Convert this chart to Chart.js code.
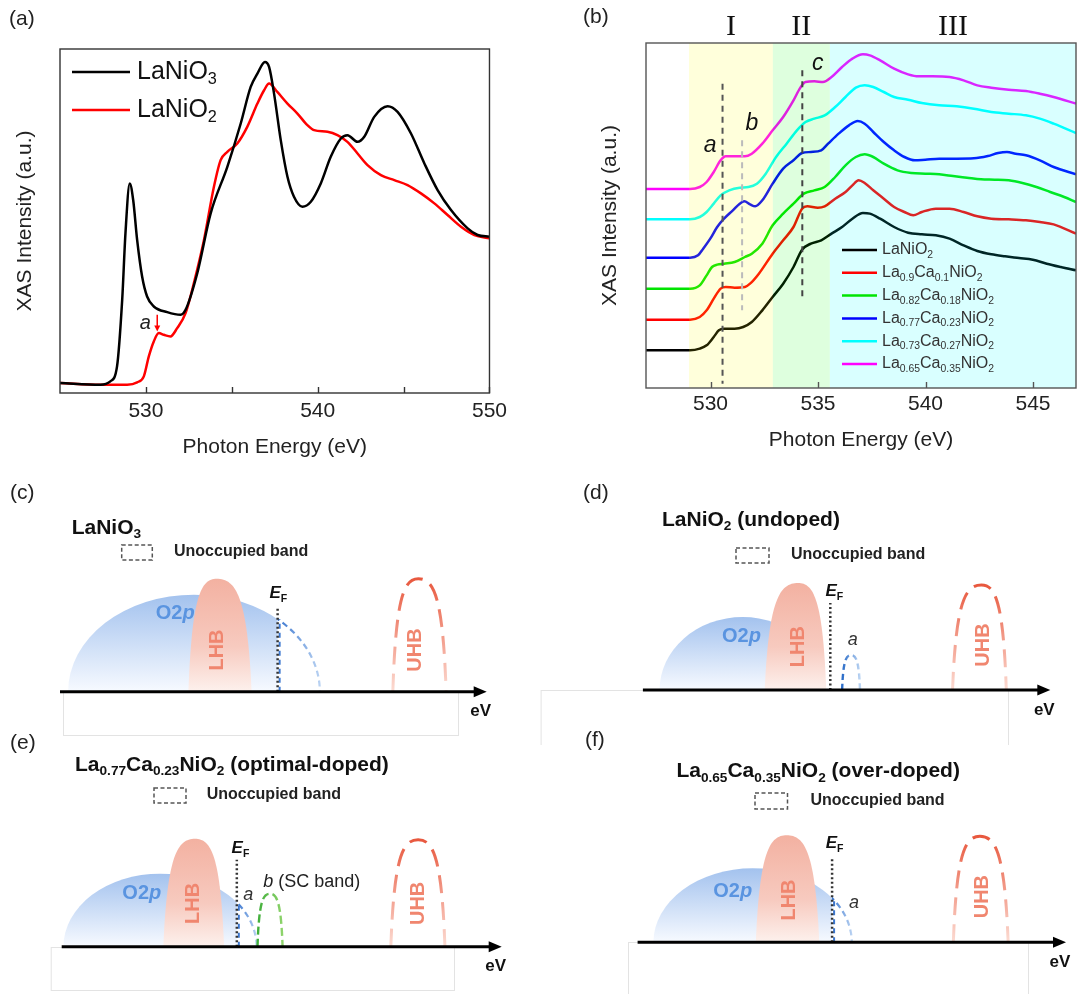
<!DOCTYPE html>
<html>
<head>
<meta charset="utf-8">
<script src="https://cdn.jsdelivr.net/npm/chart.js@4.4.0/dist/chart.umd.min.js"></script>
<style>
  body { margin: 0; background: #fff; }
  #page { position: relative; width: 1083px; height: 994px; overflow: hidden; background: #fff; }
  canvas { position: absolute; }
</style>
</head>
<body>
<div id="page">
  <canvas id="chartA" width="513" height="470" style="left:0;top:0"></canvas>
  <canvas id="chartB" width="543" height="470" style="left:540px;top:0"></canvas>
  <canvas id="bandC" width="535" height="275" style="left:0;top:470px"></canvas>
  <canvas id="bandD" width="553" height="275" style="left:530px;top:470px"></canvas>
  <canvas id="bandE" width="535" height="274" style="left:0;top:720px"></canvas>
  <canvas id="bandF" width="553" height="274" style="left:530px;top:720px"></canvas>
</div>
<script>
// ---------- (a) O K-edge XAS: LaNiO3 vs LaNiO2 ----------
const aEnergyLNO3 = [525.0, 527.35, 527.93, 528.32, 528.62, 528.81, 529.06, 529.26, 529.49, 529.78, 530.07, 530.46, 531.24, 532.02, 532.31, 532.99, 533.77, 534.74, 535.52, 536.10, 536.49, 536.93, 537.17, 537.46, 537.85, 538.24, 538.62, 539.11, 539.60, 540.18, 540.76, 541.35, 541.73, 542.32, 542.71, 543.29, 544.07, 544.65, 545.43, 546.21, 546.98, 547.76, 548.73, 549.31, 550.0];
const aIntLNO3 = [3.0, 2.5, 3.5, 8.0, 28.0, 48.0, 63.0, 58.0, 46.0, 35.0, 29.0, 26.0, 24.3, 23.5, 25.0, 36.0, 54.0, 68.0, 81.0, 92.0, 96.0, 99.5, 98.0, 90.0, 76.0, 65.0, 59.0, 56.0, 57.5, 63.0, 71.0, 76.5, 77.5, 75.5, 77.0, 83.0, 86.2, 84.5, 78.0, 69.0, 61.0, 55.0, 49.5, 47.5, 47.0];
const aEnergyLNO2 = [525.0, 527.35, 528.91, 529.49, 529.88, 530.17, 530.46, 530.75, 531.04, 531.43, 531.82, 532.31, 532.79, 533.38, 533.96, 534.35, 534.74, 535.32, 535.90, 536.49, 536.88, 537.17, 537.65, 538.24, 538.82, 539.40, 539.79, 540.57, 541.15, 541.73, 542.32, 542.90, 543.68, 544.46, 545.23, 546.01, 546.79, 547.56, 548.34, 549.12, 550.0];
const aIntLNO2 = [3.0, 2.5, 2.5, 3.2, 5.0, 11.0, 15.5, 18.0, 17.5, 17.0, 19.5, 24.0, 33.0, 46.0, 62.0, 70.0, 72.5, 75.0, 80.0, 87.0, 91.0, 93.0, 90.5, 87.0, 84.0, 80.5, 79.0, 78.5, 77.5, 75.5, 72.0, 68.5, 65.5, 64.0, 62.5, 60.0, 57.0, 53.5, 50.0, 47.5, 46.5];
const aNames = ['LaNiO_{3}', 'LaNiO_{2}'];
const aTicks = [530, 535, 540, 545, 550];
const aTickLabels = [530, 540, 550];
const aPeakA = [530.66, 18.5, 23.5];   // feature "a": energy, arrow tip, arrow tail

// ---------- (b) La1-xCaxNiO2 series (offset for clarity) ----------
const bE_LNO = [527.00, 529.05, 529.50, 529.82, 530.15, 530.39, 530.63, 531.12, 531.52, 531.92, 532.41, 532.89, 533.38, 533.86, 534.26, 534.67, 535.15, 535.63, 536.12, 536.60, 537.09, 537.41, 537.89, 538.54, 539.19, 539.83, 540.48, 541.12, 541.77, 542.41, 543.06, 543.70, 544.35, 544.99, 545.64, 546.29, 547.00];
const bI_LNO = [11.3, 11.3, 11.8, 12.8, 15.3, 17.3, 17.8, 17.8, 18.3, 19.8, 23.3, 27.3, 31.3, 36.3, 41.5, 43.3, 44.3, 46.3, 48.3, 50.8, 52.5, 52.3, 50.8, 48.3, 46.6, 46.1, 45.8, 44.8, 42.8, 41.1, 40.1, 39.5, 39.0, 38.5, 37.3, 36.3, 35.3];
const bE_Ca10 = [527.00, 529.05, 529.50, 529.82, 530.15, 530.47, 530.71, 531.12, 531.60, 531.84, 532.25, 532.89, 533.38, 533.86, 534.26, 534.50, 534.99, 535.31, 535.80, 536.28, 536.60, 536.89, 537.17, 537.57, 538.06, 538.54, 539.02, 539.43, 539.83, 540.48, 541.12, 541.77, 542.41, 543.06, 543.87, 544.67, 545.32, 545.96, 547.00];
const bI_Ca10 = [20.5, 20.5, 21.3, 23.3, 26.8, 29.8, 30.3, 30.1, 30.3, 31.3, 34.3, 40.3, 44.3, 48.3, 53.8, 54.5, 54.1, 54.5, 56.8, 58.8, 60.8, 62.3, 61.5, 59.3, 56.8, 54.3, 52.8, 51.8, 52.8, 53.8, 53.8, 52.8, 51.5, 50.8, 50.6, 50.3, 49.8, 49.1, 46.3];
const bE_Ca18 = [527.00, 529.05, 529.50, 529.82, 530.07, 530.31, 530.63, 531.12, 531.60, 531.92, 532.41, 532.89, 533.38, 533.86, 534.34, 534.83, 535.31, 535.80, 536.28, 536.76, 537.17, 537.57, 538.06, 538.70, 539.35, 539.99, 540.64, 541.28, 541.93, 542.58, 543.22, 543.87, 544.51, 545.16, 545.80, 546.45, 547.00];
const bI_Ca18 = [29.8, 29.8, 30.8, 33.8, 36.3, 37.0, 37.3, 37.8, 39.3, 40.3, 43.3, 48.8, 52.3, 55.3, 58.3, 59.3, 60.3, 63.3, 66.8, 69.3, 70.1, 69.3, 67.3, 65.3, 64.5, 64.3, 64.1, 63.6, 63.1, 62.6, 62.5, 62.3, 61.5, 60.3, 58.8, 57.3, 55.8];
const bE_Ca23 = [527.00, 529.05, 529.42, 529.66, 529.99, 530.31, 530.63, 531.04, 531.36, 531.57, 531.84, 532.08, 532.41, 532.89, 533.38, 533.86, 534.26, 534.67, 535.15, 535.47, 535.96, 536.44, 536.85, 537.17, 537.57, 538.06, 538.54, 539.02, 539.51, 539.99, 540.64, 541.45, 542.25, 542.90, 543.38, 543.79, 544.19, 544.67, 545.32, 545.96, 547.00];
const bI_Ca23 = [39.1, 39.1, 39.8, 41.8, 44.8, 48.3, 50.8, 53.3, 55.3, 56.0, 55.1, 54.5, 56.3, 61.3, 65.8, 68.3, 70.5, 70.8, 71.3, 73.3, 76.3, 78.8, 80.1, 79.3, 76.8, 73.8, 71.3, 69.3, 68.3, 68.5, 68.8, 68.8, 68.9, 69.6, 70.5, 70.8, 70.3, 69.8, 68.3, 66.3, 64.1];
const bE_Ca27 = [527.00, 529.05, 529.50, 529.82, 530.15, 530.47, 530.87, 531.36, 531.76, 532.16, 532.57, 533.05, 533.54, 534.02, 534.42, 534.83, 535.31, 535.80, 536.28, 536.76, 537.17, 537.57, 538.06, 538.54, 539.19, 539.83, 540.64, 541.45, 542.25, 543.06, 543.87, 544.67, 545.32, 545.96, 547.00];
const bI_Ca27 = [50.6, 50.6, 51.3, 52.8, 55.3, 57.8, 59.3, 60.1, 60.3, 61.3, 64.3, 69.3, 73.3, 77.3, 79.8, 80.8, 81.8, 84.3, 87.3, 90.1, 90.8, 90.3, 88.8, 87.3, 86.5, 85.5, 84.8, 84.5, 83.8, 82.8, 82.3, 81.8, 80.8, 79.3, 76.5];
const bE_Ca35 = [527.00, 529.05, 529.50, 529.82, 530.15, 530.47, 530.71, 531.12, 531.60, 531.92, 532.41, 532.89, 533.38, 533.86, 534.18, 534.42, 534.83, 535.23, 535.63, 536.12, 536.60, 537.09, 537.41, 537.89, 538.54, 539.19, 539.67, 540.32, 541.12, 541.77, 542.41, 543.06, 543.87, 544.67, 545.32, 545.96, 547.00];
const bI_Ca35 = [59.7, 59.7, 60.3, 61.8, 64.8, 68.3, 69.5, 69.5, 69.5, 70.3, 73.3, 77.3, 81.3, 86.3, 90.1, 91.8, 92.0, 91.8, 93.3, 96.3, 98.8, 100.1, 99.8, 98.3, 95.8, 94.1, 93.5, 93.5, 93.3, 92.3, 90.8, 90.1, 89.5, 89.1, 88.3, 87.3, 85.3];
const bNames = ['LaNiO_{2}', 'La_{0.9}Ca_{0.1}NiO_{2}', 'La_{0.82}Ca_{0.18}NiO_{2}', 'La_{0.77}Ca_{0.23}NiO_{2}', 'La_{0.73}Ca_{0.27}NiO_{2}', 'La_{0.65}Ca_{0.35}NiO_{2}'];
const bEnergy = [bE_LNO, bE_Ca10, bE_Ca18, bE_Ca23, bE_Ca27, bE_Ca35];
const bInt = [bI_LNO, bI_Ca10, bI_Ca18, bI_Ca23, bI_Ca27, bI_Ca35];
const bTicks = [530, 535, 540, 545];
const bRegionEdges = [529.0, 532.9, 535.55, 547.0];
const bRegionNames = ['I', 'II', 'III'];
const bGuides = [530.56, 531.47, 534.27];           // features a, b, c
const bGuideSpan = [[1.3, 91.3], [23.3, 74.3], [26.8, 95.3]];
const bGuideNames = ['a', 'b', 'c'];

// ---------- (c)-(f) band schematics ----------
// energy along the arrow: 0 = start, 100 = tip; heights in arbitrary DOS units
const schemTitles = ['LaNiO_{3}', 'LaNiO_{2} (undoped)', 'La_{0.77}Ca_{0.23}NiO_{2} (optimal-doped)', 'La_{0.65}Ca_{0.35}NiO_{2} (over-doped)'];
const o2pBand = [[1.9, 60.9, 97], [4.1, 44.9, 73], [0.4, 44.3, 73], [3.7, 50.0, 74]];        // left, right, height
const lhbBand = [[30.1, 36.7, 44.9, 113], [29.9, 38.1, 45.0, 107], [23.1, 30.3, 36.9, 108], [27.6, 34.8, 42.4, 107]]; // left, peak, right, height
const uhbBand = [[78.0, 84.0, 90.5, 113], [76.0, 83.1, 89.2, 105], [74.8, 81.0, 87.1, 107], [73.7, 79.9, 86.5, 106]];
const fermiLevel = [[51.0, 85], [46.0, 87], [39.8, 87], [45.4, 85]];                          // position, line height
const aBand = [null, [48.9, 51.1, 53.3, 35], null, null];
const scBand = [null, null, [44.5, 47.3, 50.2, 53], null];

// layout / styling of the schematic panels (canvas-relative px, label spots in data units)
const schemLayout = [
  { id: 'bandC', tag: '(c)', tagAt: [10, 23], titleAt: [71.7, 58], keyAt: [121.7, 75, 30.6, 15], keyTextAt: [174, 82], frame: [63, 222, 395, 43],
    pad: { left: 60, right: 48.3, top: 91.7, bottom: 53.3 },
    lab: { o2p: [27.0, 78], lhb: [37.0, 41.7], uhb: [83.2, 41.7], ef: [49.1, 98.4] } },
  { id: 'bandD', tag: '(d)', tagAt: [53, 23], titleAt: [132, 50], keyAt: [206, 78, 33, 15], keyTextAt: [261, 85], frame: [10.6, 220, 467.4, 56],
    pad: { left: 112.9, right: 32.7, top: 90, bottom: 55 },
    lab: { o2p: [24.2, 53.3], lhb: [38.1, 43.3], uhb: [83.5, 45], ef: [44.8, 98.3], a: [51.5, 50] } },
  { id: 'bandE', tag: '(e)', tagAt: [10, 23], titleAt: [75, 45], keyAt: [154, 68, 32, 15], keyTextAt: [206.7, 75], frame: [50.7, 227, 403.3, 43],
    pad: { left: 61.7, right: 33.3, top: 96.7, bottom: 47.3 },
    lab: { o2p: [18.2, 53.3], lhb: [29.9, 43.3], uhb: [81.0, 43.3], ef: [38.6, 98.3], a: [42.4, 51.7], b: [45.8, 65] } },
  { id: 'bandF', tag: '(f)', tagAt: [55, 20], titleAt: [146.4, 51.7], keyAt: [225, 73, 32.5, 16], keyTextAt: [280.4, 81], frame: [98, 222, 400, 60],
    pad: { left: 107.6, right: 17, top: 92.3, bottom: 51.7 },
    lab: { o2p: [22.2, 50.7], lhb: [35.4, 42.3], uhb: [80.4, 45.7], ef: [43.9, 99], a: [50.5, 39] } }
];

const FONT = '"Liberation Sans", Arial, Helvetica, sans-serif';
const SERIF = '"Liberation Serif", "Times New Roman", serif';
const aColors = ['#000000', '#ff0000'];
const bColors = ['#000000', '#ff0000', '#00e400', '#0000ff', '#00ffff', '#ff00ff'];
const bRegionColors = ['rgba(255,255,0,0.14)', 'rgba(0,255,0,0.13)', 'rgba(0,255,255,0.15)'];
const bGuideColors = ['#555', '#bbb', '#444'];
const bGuideLabelAt = [[529.98, 72.8], [531.92, 79.3], [534.99, 97.3]];

Chart.defaults.font.family = FONT;
Chart.defaults.color = '#222';

// text with _{sub} and *italic* parts
function parseRich(s) {
  const out = [];
  const re = /_\{([^}]*)\}|\*([^*]*)\*/g;
  let last = 0, m;
  while ((m = re.exec(s))) {
    if (m.index > last) out.push({ t: s.slice(last, m.index) });
    if (m[1] !== undefined) out.push({ t: m[1], sub: true });
    else out.push({ t: m[2], it: true });
    last = re.lastIndex;
  }
  if (last < s.length) out.push({ t: s.slice(last) });
  return out;
}

function drawRich(ctx, s, x, y, size, o = {}) {
  const parts = parseRich(s);
  const font = p => (p.it || o.italic ? 'italic ' : '') + (o.bold ? 'bold ' : '') +
    (p.sub ? size * (o.subScale || 0.65) : size) + 'px ' + FONT;
  let total = 0;
  parts.forEach(p => { ctx.font = font(p); p.w = ctx.measureText(p.t).width; total += p.w; });
  let cx = o.align === 'center' ? x - total / 2 : x;
  ctx.save();
  ctx.fillStyle = o.color || '#222';
  ctx.textAlign = 'left';
  ctx.textBaseline = 'middle';
  parts.forEach(p => {
    ctx.font = font(p);
    ctx.fillText(p.t, cx, p.sub ? y + size * 0.32 : y);
    cx += p.w;
  });
  ctx.restore();
}

function drawTag(ctx, txt, x, y) {
  ctx.save();
  ctx.font = '21px ' + FONT;
  ctx.fillStyle = '#222';
  ctx.textBaseline = 'middle';
  ctx.fillText(txt, x, y);
  ctx.restore();
}

// box frame + short inward ticks on the energy axis
function frameWithTicks(tickVals, color) {
  return {
    id: 'frameTicks',
    afterDraw(chart) {
      const { ctx, chartArea: a, scales: { x } } = chart;
      ctx.save();
      ctx.strokeStyle = color;
      ctx.lineWidth = 1.4;
      ctx.strokeRect(a.left, a.top, a.right - a.left, a.bottom - a.top);
      tickVals.forEach(v => {
        const px = Math.round(x.getPixelForValue(v)) + 0.5;
        ctx.beginPath(); ctx.moveTo(px, a.bottom); ctx.lineTo(px, a.bottom - 6); ctx.stroke();
      });
      ctx.restore();
    }
  };
}

function axisTitle(text, pad) {
  return { display: true, text: text, font: { size: 21 }, color: '#222', padding: pad };
}

// ---------- chart (a) ----------
const aLegend = {
  id: 'aLegend',
  afterDatasetsDraw(chart) {
    const { ctx, chartArea: a, scales: { x, y } } = chart;
    ctx.save();
    aNames.forEach((n, i) => {
      const yy = a.top + 23 + 38 * i;
      ctx.strokeStyle = aColors[i];
      ctx.lineWidth = 2.5;
      ctx.beginPath(); ctx.moveTo(a.left + 12, yy); ctx.lineTo(a.left + 70, yy); ctx.stroke();
      drawRich(ctx, n, a.left + 77, yy, 25, { color: '#111' });
    });
    // feature a: small red arrow
    const px = x.getPixelForValue(aPeakA[0]);
    const yTip = y.getPixelForValue(aPeakA[1]), yTail = y.getPixelForValue(aPeakA[2]);
    ctx.strokeStyle = '#ff0000'; ctx.fillStyle = '#ff0000'; ctx.lineWidth = 1.5;
    ctx.beginPath(); ctx.moveTo(px, yTail); ctx.lineTo(px, yTip - 4); ctx.stroke();
    ctx.beginPath(); ctx.moveTo(px, yTip); ctx.lineTo(px - 3, yTip - 6); ctx.lineTo(px + 3, yTip - 6); ctx.closePath(); ctx.fill();
    drawRich(ctx, '*a*', px - 12, (yTip + yTail) / 2, 20, { align: 'center', color: '#222' });
    ctx.restore();
    drawTag(ctx, '(a)', 9, 19);
  }
};

new Chart(document.getElementById('chartA'), {
  type: 'line',
  data: {
    datasets: [
      { data: aEnergyLNO3.map((e, i) => ({ x: e, y: aIntLNO3[i] })), borderColor: aColors[0] },
      { data: aEnergyLNO2.map((e, i) => ({ x: e, y: aIntLNO2[i] })), borderColor: aColors[1] }
    ]
  },
  options: {
    responsive: false, animation: false, devicePixelRatio: 1,
    layout: { padding: { top: 49, right: 17, left: 0, bottom: 0 } },
    elements: { point: { radius: 0 }, line: { borderWidth: 2.5, cubicInterpolationMode: 'monotone' } },
    plugins: { legend: { display: false }, tooltip: { enabled: false } },
    scales: {
      x: {
        type: 'linear', min: 525, max: 550,
        afterBuildTicks: s => { s.ticks = aTicks.map(v => ({ value: v })); },
        ticks: { callback: v => aTickLabels.includes(v) ? String(v) : '', font: { size: 21 }, color: '#222', padding: 6, maxRotation: 0, autoSkip: false },
        grid: { display: false, drawTicks: false }, border: { display: false },
        title: axisTitle('Photon Energy (eV)', { top: 0, bottom: 10 }),
        afterFit: s => { s.height = 77; }
      },
      y: {
        min: 0, max: 103.4,
        ticks: { display: false }, grid: { display: false, drawTicks: false }, border: { display: false },
        title: axisTitle('XAS Intensity (a.u.)', { top: 13, bottom: 0 }),
        afterFit: s => { s.width = 60; }
      }
    }
  },
  plugins: [aLegend, frameWithTicks(aTicks, '#333')]
});

// ---------- chart (b) ----------
const bOverlay = {
  id: 'bOverlay',
  afterDatasetsDraw(chart) {
    const { ctx, chartArea: a, scales: { x, y } } = chart;
    ctx.save();
    // shaded energy windows I, II, III laid over the spectra
    bRegionNames.forEach((name, i) => {
      const x0 = x.getPixelForValue(bRegionEdges[i]), x1 = x.getPixelForValue(bRegionEdges[i + 1]);
      ctx.fillStyle = bRegionColors[i];
      ctx.fillRect(x0, a.top, x1 - x0, a.bottom - a.top);
      ctx.fillStyle = '#111';
      ctx.font = '30px ' + SERIF;
      ctx.textAlign = 'center';
      ctx.textBaseline = 'middle';
      ctx.fillText(name, (x0 + x1) / 2, a.top - 16);
    });
    // dashed guides at features a, b, c
    bGuides.forEach((g, i) => {
      const px = x.getPixelForValue(g);
      ctx.strokeStyle = bGuideColors[i];
      ctx.lineWidth = 2;
      ctx.setLineDash([6, 5]);
      ctx.beginPath();
      ctx.moveTo(px, y.getPixelForValue(bGuideSpan[i][1]));
      ctx.lineTo(px, y.getPixelForValue(bGuideSpan[i][0]));
      ctx.stroke();
      drawRich(ctx, '*' + bGuideNames[i] + '*', x.getPixelForValue(bGuideLabelAt[i][0]), y.getPixelForValue(bGuideLabelAt[i][1]), 23, { align: 'center', color: '#111' });
    });
    ctx.setLineDash([]);
    // legend
    const lx = a.left + 196, ly = a.top + 207;
    bNames.forEach((n, i) => {
      const yy = ly + 22.8 * i;
      ctx.strokeStyle = bColors[i];
      ctx.lineWidth = 2.5;
      ctx.beginPath(); ctx.moveTo(lx, yy); ctx.lineTo(lx + 35, yy); ctx.stroke();
      drawRich(ctx, n, lx + 40, yy, 16, { color: '#333' });
    });
    ctx.restore();
    drawTag(ctx, '(b)', 43, 17);
  }
};

new Chart(document.getElementById('chartB'), {
  type: 'line',
  data: {
    datasets: bNames.map((n, k) => ({
      data: bEnergy[k].map((e, i) => ({ x: e, y: bInt[k][i] })),
      borderColor: bColors[k]
    }))
  },
  options: {
    responsive: false, animation: false, devicePixelRatio: 1,
    layout: { padding: { top: 43, right: 7, left: 0, bottom: 0 } },
    elements: { point: { radius: 0 }, line: { borderWidth: 2.5, cubicInterpolationMode: 'monotone' } },
    plugins: { legend: { display: false }, tooltip: { enabled: false } },
    scales: {
      x: {
        type: 'linear', min: 527, max: 547,
        afterBuildTicks: s => { s.ticks = bTicks.map(v => ({ value: v })); },
        ticks: { callback: v => String(v), font: { size: 21 }, color: '#222', padding: 4, maxRotation: 0, autoSkip: false },
        grid: { display: false, drawTicks: false }, border: { display: false },
        title: axisTitle('Photon Energy (eV)', { top: 0, bottom: 17 }),
        afterFit: s => { s.height = 82; }
      },
      y: {
        min: 0, max: 103.5,
        ticks: { display: false }, grid: { display: false, drawTicks: false }, border: { display: false },
        title: axisTitle('XAS Intensity (a.u.)', { top: 58, bottom: 0 }),
        afterFit: s => { s.width = 106; }
      }
    }
  },
  plugins: [bOverlay, frameWithTicks(bTicks, '#555')]
});

// ---------- schematics (c)-(f) ----------
function bulletPath(ctx, xl, xp, xr, y0, yt) {
  const h = y0 - yt;
  ctx.moveTo(xl, y0);
  ctx.bezierCurveTo(xl + (xp - xl) * 0.12, y0 - h * 0.85, xp - (xp - xl) * 0.55, yt, xp, yt);
  ctx.bezierCurveTo(xp + (xr - xp) * 0.55, yt, xr - (xr - xp) * 0.12, y0 - h * 0.85, xr, y0);
}

function dashedBand(ctx, X, Y, band, c0, c1, dash, vertical) {
  const [l, p, r, h] = band;
  const g = vertical ? ctx.createLinearGradient(0, Y(h), 0, Y(0)) : ctx.createLinearGradient(X(l), 0, X(r), 0);
  g.addColorStop(0, c0);
  g.addColorStop(1, c1);
  ctx.save();
  ctx.strokeStyle = g;
  ctx.lineWidth = vertical ? 3 : 2.4;
  ctx.setLineDash(dash);
  ctx.beginPath();
  bulletPath(ctx, X(l), X(p), X(r), Y(0), Y(h));
  ctx.stroke();
  ctx.restore();
}

function bandPlugin(i) {
  const L = schemLayout[i];
  return {
    id: 'band' + i,
    beforeDatasetsDraw(chart) {
      const { ctx, scales: { x, y } } = chart;
      const X = v => x.getPixelForValue(v), Y = v => y.getPixelForValue(v);
      const y0 = Y(0);
      ctx.save();
      // faint box left over under the axis
      ctx.strokeStyle = '#e3e3e3';
      ctx.lineWidth = 1;
      ctx.strokeRect(L.frame[0] + 0.5, L.frame[1] + 0.5, L.frame[2], L.frame[3]);

      // O2p band: filled below EF
      const [oL, oR, oH] = o2pBand[i];
      const ef = X(fermiLevel[i][0]);
      const cx = (X(oL) + X(oR)) / 2, rx = (X(oR) - X(oL)) / 2, ry = y0 - Y(oH);
      const gO = ctx.createLinearGradient(0, y0 - ry, 0, y0);
      gO.addColorStop(0, '#a3c2ee');
      gO.addColorStop(1, '#f7faff');
      ctx.save();
      ctx.beginPath(); ctx.rect(0, 0, ef, chart.height); ctx.clip();
      ctx.beginPath(); ctx.ellipse(cx, y0, rx, ry, 0, Math.PI, 2 * Math.PI); ctx.closePath();
      ctx.fillStyle = gO; ctx.fill();
      ctx.restore();

      // lower Hubbard band
      const [hL, hP, hR, hH] = lhbBand[i];
      const gL = ctx.createLinearGradient(0, Y(hH), 0, y0);
      gL.addColorStop(0, '#f3b1a1');
      gL.addColorStop(0.6, '#f7cabf');
      gL.addColorStop(1, '#fdf1ed');
      ctx.beginPath(); bulletPath(ctx, X(hL), X(hP), X(hR), y0, Y(hH)); ctx.closePath();
      ctx.fillStyle = gL; ctx.fill();

      // unoccupied part of O2p above EF (dashed)
      if (X(oR) > ef) {
        ctx.save();
        ctx.beginPath(); ctx.rect(ef, 0, chart.width - ef, chart.height); ctx.clip();
        const gB = ctx.createLinearGradient(ef, 0, X(oR), 0);
        gB.addColorStop(0, '#3a76cf');
        gB.addColorStop(1, '#b9d2f2');
        ctx.strokeStyle = gB; ctx.lineWidth = 2.2; ctx.setLineDash([6, 4]);
        ctx.beginPath(); ctx.ellipse(cx, y0, rx, ry, 0, Math.PI, 2 * Math.PI); ctx.stroke();
        ctx.restore();
        const t = (ef - cx) / rx;
        const hEF = ry * Math.sqrt(Math.max(0, 1 - t * t));
        ctx.strokeStyle = '#3a76cf'; ctx.lineWidth = 2; ctx.setLineDash([5, 4]);
        ctx.beginPath(); ctx.moveTo(ef + 2, y0); ctx.lineTo(ef + 2, y0 - hEF); ctx.stroke();
      }
      if (aBand[i]) dashedBand(ctx, X, Y, aBand[i], '#2a6cc8', '#bcd5f3', [6, 4], false);
      if (scBand[i]) dashedBand(ctx, X, Y, scBand[i], '#3fae3a', '#8fd46c', [8, 4], false);
      // upper Hubbard band (empty)
      dashedBand(ctx, X, Y, uhbBand[i], '#e8583e', '#fcdcd3', [18, 9], true);
      ctx.restore();
    },
    afterDatasetsDraw(chart) {
      const { ctx, scales: { x, y } } = chart;
      const X = v => x.getPixelForValue(v), Y = v => y.getPixelForValue(v);
      const y0 = Y(0);
      const lab = L.lab;
      ctx.save();
      // energy axis arrow
      ctx.strokeStyle = '#000'; ctx.fillStyle = '#000'; ctx.lineWidth = 3; ctx.setLineDash([]);
      ctx.beginPath(); ctx.moveTo(X(0), y0); ctx.lineTo(X(100) - 10, y0); ctx.stroke();
      ctx.beginPath(); ctx.moveTo(X(100), y0); ctx.lineTo(X(100) - 13, y0 - 5.5); ctx.lineTo(X(100) - 13, y0 + 5.5); ctx.closePath(); ctx.fill();
      drawRich(ctx, 'eV', X(100) - 6, y0 + 20, 17, { bold: true, align: 'center', color: '#111' });

      drawRich(ctx, 'O2*p*', X(lab.o2p[0]), Y(lab.o2p[1]), 20, { bold: true, align: 'center', color: '#5a94e0' });
      [['LHB', lab.lhb], ['UHB', lab.uhb]].forEach(([t, at]) => {
        ctx.save();
        ctx.translate(X(at[0]), Y(at[1]));
        ctx.rotate(-Math.PI / 2);
        drawRich(ctx, t, 0, 0, 20, { bold: true, align: 'center', color: '#f0866f' });
        ctx.restore();
      });
      drawRich(ctx, '*E*_{F}', X(lab.ef[0]), Y(lab.ef[1]), 17, { bold: true, color: '#111', subScale: 0.62 });
      if (lab.a) drawRich(ctx, '*a*', X(lab.a[0]), Y(lab.a[1]), 18, { align: 'center', color: '#333' });
      if (lab.b) drawRich(ctx, '*b* (SC band)', X(lab.b[0]), Y(lab.b[1]), 18, { color: '#222' });

      // title and key
      drawRich(ctx, schemTitles[i], L.titleAt[0], L.titleAt[1], 21, { bold: true, color: '#111' });
      ctx.strokeStyle = '#555'; ctx.lineWidth = 1.5; ctx.setLineDash([4, 2.5]);
      ctx.strokeRect(L.keyAt[0], L.keyAt[1], L.keyAt[2], L.keyAt[3]);
      ctx.setLineDash([]);
      drawRich(ctx, 'Unoccupied band', L.keyTextAt[0], L.keyTextAt[1], 16, { bold: true, color: '#222' });
      ctx.restore();
      drawTag(ctx, L.tag, L.tagAt[0], L.tagAt[1]);
    }
  };
}

schemLayout.forEach((L, i) => {
  new Chart(document.getElementById(L.id), {
    type: 'scatter',
    data: {
      datasets: [{
        // Fermi level
        data: [{ x: fermiLevel[i][0], y: 0 }, { x: fermiLevel[i][0], y: fermiLevel[i][1] }],
        showLine: true, borderColor: '#333', borderWidth: 2.5, borderDash: [2, 2.5],
        pointRadius: 0, clip: false
      }]
    },
    options: {
      responsive: false, animation: false, devicePixelRatio: 1,
      layout: { padding: L.pad },
      plugins: { legend: { display: false }, tooltip: { enabled: false } },
      scales: {
        x: { type: 'linear', min: 0, max: 100, display: false },
        y: { type: 'linear', min: 0, max: 130, display: false }
      }
    },
    plugins: [bandPlugin(i)]
  });
});
</script>
</body>
</html>
